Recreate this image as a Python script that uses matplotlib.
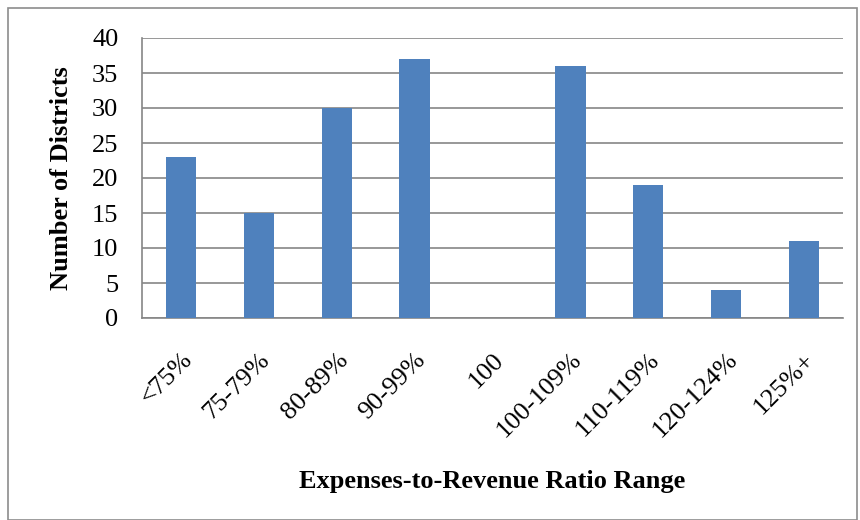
import matplotlib.pyplot as plt
from matplotlib.patches import Rectangle
from matplotlib.transforms import ScaledTranslation

# Data
categories = ['<75%', '75-79%', '80-89%', '90-99%', '100',
              '100-109%', '110-119%', '120-124%', '125%+']
districts = [23, 15, 30, 37, 0, 36, 19, 4, 11]
y_ticks = [0, 5, 10, 15, 20, 25, 30, 35, 40]

plt.rcParams['font.family'] = ['Liberation Serif', 'DejaVu Serif']

fig = plt.figure(figsize=(8.6, 5.2), dpi=100)
ax = fig.add_axes([142 / 860, 1 - 318 / 520, 701 / 860, 280 / 520])

# outer chart border
fig.patches.append(Rectangle((8 / 860, 0.0), 849 / 860, 1 - 8 / 520,
                             transform=fig.transFigure, fill=False,
                             edgecolor='#8c8c8c', linewidth=1.2))

x = range(len(categories))
ax.bar(x, districts, width=0.39, color='#4F81BD', zorder=3)

ax.set_xlim(-0.5, len(categories) - 0.5)
ax.set_ylim(0, 40)
ax.set_yticks(y_ticks)
ax.yaxis.grid(True, color='#868686', linewidth=1.2, zorder=0)
ax.set_axisbelow(True)

ax.set_xticks(list(x))
ax.set_xticklabels(categories, rotation=45, ha='right', va='top',
                   rotation_mode='anchor', fontsize=19)
shift = ScaledTranslation(7 / 100, 0, fig.dpi_scale_trans)
for lbl in ax.get_xticklabels():
    lbl.set_transform(lbl.get_transform() + shift)
ax.tick_params(axis='y', labelsize=19, length=0, pad=17)
ax.tick_params(axis='x', length=0, pad=22)

for side in ['top', 'right']:
    ax.spines[side].set_visible(False)
for side in ['left', 'bottom']:
    ax.spines[side].set_color('#868686')
    ax.spines[side].set_linewidth(1.2)

ax.set_ylabel('Number of Districts', fontsize=19, fontweight='bold', labelpad=14)
ax.set_xlabel('Expenses-to-Revenue Ratio Range', fontsize=19,
              fontweight='bold', labelpad=20)

fig.savefig('out.png', dpi=100)
